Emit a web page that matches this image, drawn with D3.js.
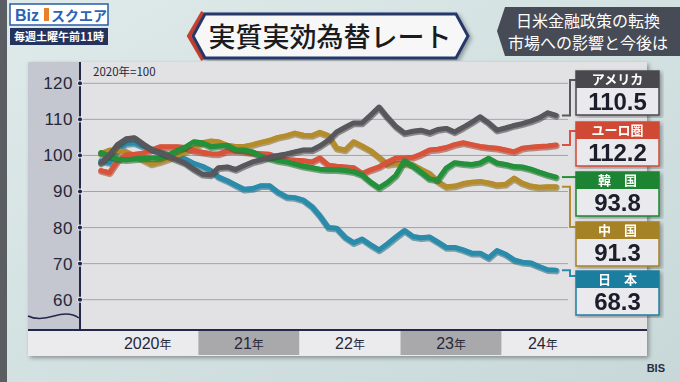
<!DOCTYPE html>
<html>
<head>
<meta charset="utf-8">
<script src="https://cdn.jsdelivr.net/npm/d3@7.9.0/dist/d3.min.js"></script>
<style>
  html, body { margin: 0; padding: 0; background: #d3e1e2; }
  svg { display: block; font-family: "Noto Sans CJK JP", "Noto Sans", sans-serif; }
</style>
</head>
<body>
<svg id="chart" width="680" height="382"></svg>
<script>
// monthly data, Jan 2020 .. Jul 2024 (2020 = 100)
const startYear = 2020;
const usa   = [97.9,100.2,103,104.6,104.9,103.2,101.7,100.9,99.8,98.8,97.8,96.2,94.8,94.6,96.6,96.8,96.1,97.2,98.2,98.8,99.5,100,100.4,101,101.5,101.5,102.6,104.2,106.5,107.8,109,109,111.2,113.4,110.5,108,106.2,106.7,107,106.3,107.2,107.5,106.5,107.8,109.2,110.7,109,107,107.6,108.3,108.8,109.5,110.4,111.8,111.1];
const euro  = [95.8,95.2,98.5,100.1,100.3,100.6,101.5,102.4,102.4,102.4,102.2,101.3,100.9,100.5,100.4,101.2,101.3,101,100.7,100.5,100.3,99.5,98.8,98.7,98.5,98.2,99.3,97.3,97,96.8,96.6,95,96,96.8,98.2,99.3,99.3,99.5,100.3,101.5,101.7,102.2,103,103.5,103,102.5,102.2,102,101.5,101,102,102.3,102.5,102.6,102.9];
const korea = [100.8,99.8,99,98.8,99,99.2,99.3,99.3,100.2,101.3,102.3,103.8,103.5,102.4,102.6,102.8,101.6,101.5,101,99.8,99.2,98.6,98.2,97.6,97,96.6,96.2,96,96,95.8,95.5,94.6,92.6,91,92.5,94.5,98.5,97,95.4,93.5,93.2,96.5,98,97.7,97.5,97.9,99.2,97.9,97.5,96.9,96.8,96.2,95.4,94.6,94];
const china = [100.5,101.5,101.3,101,100,98.8,97.6,98.2,99,100,101,102,103.5,104,103.8,102.8,102.5,102.5,103,103.6,104.2,105,105.5,106.2,105.6,105.5,106.4,105.5,102,101.5,103.8,102.6,101.3,99.5,97.5,97.8,97.7,97.4,96.2,95,92.8,91.3,91.5,92.2,92.6,92.8,92.4,91.8,92,93.7,92.3,91.5,91.2,91.3,91.3];
const japan = [98.5,98,101.5,103.3,103.5,102.5,101.8,101,100.3,99.7,99,97.8,97,95.8,94,93,91.8,90.6,90.8,91.6,91.6,89.8,88.5,88.3,87.6,85.8,83.3,80,79.8,77.3,75.8,76.8,75.2,73.8,75.5,77.4,79.2,77.5,77.2,77.4,76,74.5,74.5,73.8,72.9,72.9,71.6,73.6,72.6,71,70.4,70.2,69.2,68.3,68.2];

const seriesNames  = ['アメリカ', 'ユーロ圏', '韓　国', '中　国', '日　本'];
const seriesValues = [usa, euro, korea, china, japan];
const boxValues    = ['110.5', '112.2', '93.8', '91.3', '68.3'];
const colors       = ['#58585c', '#d9533a', '#23913a', '#b48c2c', '#2a8cab'];
const headerColors = ['#4a4a4e', '#cf4a34', '#1c8430', '#a58227', '#1f7e9f'];
const yTicks = [60, 70, 80, 90, 100, 110, 120];
const yearLabels = ['2020', '21', '22', '23', '24'];

const svg = d3.select('#chart');
const defs = svg.append('defs');
const numFont = '"Liberation Sans", Arial, sans-serif';

// background
const bg = defs.append('linearGradient').attr('id', 'bg').attr('x1', 0).attr('y1', 0).attr('x2', 1).attr('y2', 1);
bg.append('stop').attr('offset', 0).attr('stop-color', '#dfeaea');
bg.append('stop').attr('offset', 1).attr('stop-color', '#c8d8d9');
svg.append('rect').attr('width', 680).attr('height', 382).attr('fill', 'url(#bg)');
svg.append('rect').attr('width', 7).attr('height', 382).attr('fill', '#5a5e62');

const shadow = defs.append('filter').attr('id', 'shadow').attr('x', -0.05).attr('y', -0.05).attr('width', 1.1).attr('height', 1.1);
shadow.append('feDropShadow').attr('dx', 2).attr('dy', 2).attr('stdDeviation', 2).attr('flood-opacity', 0.35);

// header: logo
svg.append('rect').attr('x', 10).attr('y', 4).attr('width', 98).attr('height', 21)
  .attr('fill', '#fff').attr('stroke', '#2a5ca8').attr('stroke-width', 1.5);
svg.append('text').attr('x', 15).attr('y', 21).attr('font-size', 16).attr('font-weight', 700)
  .attr('font-family', numFont).attr('fill', '#2d62b5').text('Biz');
svg.append('rect').attr('x', 44).attr('y', 8).attr('width', 5).attr('height', 13).attr('fill', '#e8822a');
svg.append('text').attr('x', 51).attr('y', 21).attr('font-size', 14).attr('font-weight', 700)
  .attr('fill', '#2d62b5').text('スクエア');
svg.append('rect').attr('x', 10).attr('y', 28).attr('width', 98).attr('height', 17).attr('fill', '#23335e');
svg.append('text').attr('x', 59).attr('y', 41).attr('text-anchor', 'middle').attr('font-size', 11)
  .attr('font-weight', 700).attr('fill', '#fff').text('毎週土曜午前11時');

// header: title banner
svg.append('polyline').attr('points', '203,12 189,36 203,60').attr('fill', 'none')
  .attr('stroke', '#c8402e').attr('stroke-width', 4);
svg.append('polygon').attr('points', '193,36 205,14 456,14 468,36 456,58 205,58')
  .attr('fill', '#f7f7f7').attr('stroke', '#26386a').attr('stroke-width', 3).attr('filter', 'url(#shadow)');
svg.append('text').attr('x', 330).attr('y', 47).attr('text-anchor', 'middle').attr('font-size', 27)
  .attr('font-weight', 500).attr('fill', '#1b1b1d').text('実質実効為替レート');

// header: right topic box
svg.append('polygon').attr('points', '505,7 680,7 680,56 505,56 497,31').attr('fill', '#474b55');
svg.append('text').attr('x', 588).attr('y', 27).attr('text-anchor', 'middle').attr('font-size', 16)
  .attr('fill', '#fff').text('日米金融政策の転換');
svg.append('text').attr('x', 588).attr('y', 49).attr('text-anchor', 'middle').attr('font-size', 16)
  .attr('fill', '#fff').text('市場への影響と今後は');

// chart panel
const panelL = 28, panelR = 647, plotT = 62, plotB = 330, axisX = 80, gridR = 568;
svg.append('rect').attr('x', panelL).attr('y', plotT).attr('width', panelR - panelL).attr('height', 294)
  .attr('fill', '#ebebed').attr('filter', 'url(#shadow)');
svg.append('rect').attr('x', panelL).attr('y', plotT).attr('width', axisX - panelL).attr('height', plotB - plotT)
  .attr('fill', '#c4c6d0');
svg.append('rect').attr('x', axisX).attr('y', plotT).attr('width', panelR - axisX).attr('height', plotB - plotT)
  .attr('fill', '#e2e2e4');

const x = d3.scaleTime().domain([new Date(2020, 0, 1), new Date(2025, 0, 1)]).range([97, 603]);
const y = d3.scaleLinear().domain([60, 120]).range([299.7, 83.3]);
const dates = usa.map((_, i) => new Date(startYear, i, 15));

// gridlines
svg.append('g').selectAll('line').data(yTicks).join('line')
  .attr('x1', axisX).attr('x2', gridR).attr('y1', d => y(d)).attr('y2', d => y(d))
  .attr('stroke', '#a4a4a8').attr('stroke-width', 1);

// y axis
const yAxis = svg.append('g').attr('transform', `translate(${axisX},0)`)
  .call(d3.axisLeft(y).tickValues(yTicks).tickSize(0).tickPadding(7));
yAxis.select('.domain').remove();
yAxis.selectAll('text').attr('font-size', 17).attr('fill', '#25283a')
  .attr('font-family', numFont).attr('letter-spacing', 0.5);
svg.append('line').attr('x1', axisX).attr('x2', axisX).attr('y1', plotT).attr('y2', plotB)
  .attr('stroke', '#23284a').attr('stroke-width', 2);
svg.append('g').selectAll('circle').data(yTicks).join('circle')
  .attr('cx', axisX).attr('cy', d => y(d)).attr('r', 2.6)
  .attr('fill', '#23284a').attr('stroke', '#fff').attr('stroke-width', 1);

// axis break mark
svg.append('path').attr('d', 'M28,316 C36,320 44,319 54,316 C64,313 72,313 79,318')
  .attr('fill', 'none').attr('stroke', '#23284a').attr('stroke-width', 1.5);

svg.append('text').attr('x', 93).attr('y', 76).attr('font-size', 11.5).attr('fill', '#25283a').text('2020年=100');

// x band of years
const band = svg.append('g');
yearLabels.forEach((lab, k) => {
  const x0 = k === 0 ? panelL : x(new Date(startYear + k, 0, 1));
  const x1 = k === yearLabels.length - 1 ? panelR : x(new Date(startYear + k + 1, 0, 1));
  band.append('rect').attr('x', x0).attr('y', plotB + 1).attr('width', x1 - x0).attr('height', 24)
    .attr('fill', k % 2 ? '#a9a9ac' : '#ebebed');
  const cx = (x(new Date(startYear + k, 0, 1)) + Math.min(x(new Date(startYear + k + 1, 0, 1)), 584)) / 2;
  const t = band.append('text').attr('x', cx).attr('y', plotB + 19).attr('text-anchor', 'middle')
    .attr('fill', '#25283a');
  t.append('tspan').attr('font-size', 16).attr('font-family', numFont).text(lab);
  t.append('tspan').attr('font-size', 12).text('年');
});
svg.append('line').attr('x1', panelL).attr('x2', panelR).attr('y1', plotB).attr('y2', plotB)
  .attr('stroke', '#23284a').attr('stroke-width', 2);

// lines
const line = d3.line().x((d, i) => x(dates[i])).y(d => y(d));
const drawOrder = [4, 3, 1, 2, 0];
const lines = svg.append('g');
drawOrder.forEach(s => {
  lines.append('path').attr('d', line(seriesValues[s])).attr('fill', 'none')
    .attr('stroke', d3.color(colors[s]).darker(0.9)).attr('stroke-opacity', 0.55)
    .attr('stroke-width', 6.5).attr('stroke-linejoin', 'round').attr('stroke-linecap', 'round')
    .attr('transform', 'translate(0.5,1)');
  lines.append('path').attr('d', line(seriesValues[s])).attr('fill', 'none')
    .attr('stroke', colors[s]).attr('stroke-width', 5)
    .attr('stroke-linejoin', 'round').attr('stroke-linecap', 'round');
});

// labels on the right
const boxX = 576, boxW = 83, headH = 17, valH = 27;
const boxTops = [71, 122, 172, 222, 271];
seriesNames.forEach((name, s) => {
  const vals = seriesValues[s];
  const ly = y(vals[vals.length - 1]);
  const lx = x(dates[dates.length - 1]) + 6;
  const ty = Math.max(boxTops[s] + 5, Math.min(boxTops[s] + 9, ly));
  svg.append('path').attr('d', `M${lx},${ly} H570 V${ty} H${boxX}`).attr('fill', 'none')
    .attr('stroke', colors[s]).attr('stroke-width', 2);
  const g = svg.append('g').attr('transform', `translate(${boxX},${boxTops[s]})`).attr('filter', 'url(#shadow)');
  g.append('rect').attr('width', boxW).attr('height', headH + valH).attr('fill', '#eaeaee')
    .attr('stroke', headerColors[s]).attr('stroke-width', 1.5);
  g.append('rect').attr('width', boxW).attr('height', headH).attr('fill', headerColors[s]);
  g.append('text').attr('x', boxW / 2).attr('y', 12.5).attr('text-anchor', 'middle')
    .attr('font-size', 13).attr('font-weight', 700).attr('fill', '#fff').text(name);
  g.append('text').attr('x', boxW / 2).attr('y', headH + 22).attr('text-anchor', 'middle')
    .attr('font-family', numFont).attr('font-size', 24).attr('font-weight', 700)
    .attr('fill', '#1c1d2a').text(boxValues[s]);
});

svg.append('text').attr('x', 665).attr('y', 372).attr('text-anchor', 'end').attr('font-size', 11)
  .attr('font-family', numFont).attr('font-weight', 700).attr('fill', '#2a2d3a').text('BIS');
</script>
</body>
</html>
